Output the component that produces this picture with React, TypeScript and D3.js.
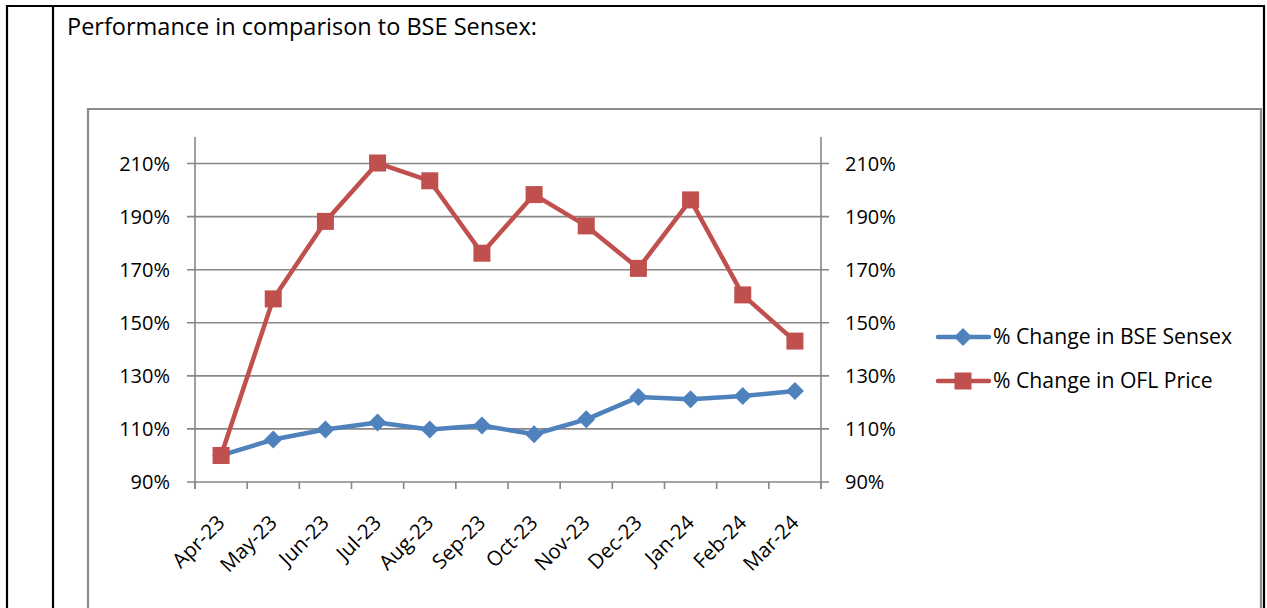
import React from "react";
import * as d3 from "d3";

const months = ["Apr-23", "May-23", "Jun-23", "Jul-23", "Aug-23", "Sep-23", "Oct-23", "Nov-23", "Dec-23", "Jan-24", "Feb-24", "Mar-24"];
// % change vs. April (1 = 100%)
const sensex = [1.0, 1.06, 1.098, 1.124, 1.098, 1.113, 1.08, 1.136, 1.22, 1.212, 1.224, 1.243];
const oflPrice = [1.0, 1.59, 1.882, 2.102, 2.035, 1.762, 1.983, 1.865, 1.705, 1.963, 1.605, 1.431];
const yTicks = [0.9, 1.1, 1.3, 1.5, 1.7, 1.9, 2.1];
const seriesNames = ["% Change in BSE Sensex", "% Change in OFL Price"];

const W = 1267;
const H = 608;
const plot = { left: 195, right: 821, top: 137, bottom: 482 };
const font = "'Open Sans', sans-serif";
const gridColor = "#878787";
const blue = "#4F81BD";
const red = "#C0504D";

export default function App() {
  const x = d3.scaleBand<string>().domain(months).range([plot.left, plot.right]).paddingInner(0).paddingOuter(0);
  const y = d3.scaleLinear().domain([0.9, 2.2]).range([plot.bottom, plot.top]);
  const cx = (m: string) => (x(m) as number) + x.bandwidth() / 2;
  const fmt = d3.format(".0%");

  const line = d3.line<number>()
    .x((_, i) => cx(months[i]))
    .y(d => y(d));

  const diamond = (px: number, py: number, r: number) =>
    `M${px},${py - r}L${px + r},${py}L${px},${py + r}L${px - r},${py}Z`;

  // tick positions on the category axis sit on band edges
  const xTickPos = months.map(m => x(m) as number).concat([plot.right]);

  return (
    <svg width={W} height={H} style={{ position: "fixed", left: 0, top: 0, background: "#fff" }} fontFamily={font}>
      {/* table borders */}
      <line x1={7} x2={7} y1={5} y2={H} stroke="#000" strokeWidth={2.2} />
      <line x1={53} x2={53} y1={5} y2={H} stroke="#000" strokeWidth={2.2} />
      <line x1={1264} x2={1264} y1={5} y2={H} stroke="#000" strokeWidth={2.2} />
      <line x1={6} x2={1265} y1={6} y2={6} stroke="#000" strokeWidth={2.2} />

      <text x={67} y={35} fontSize={23.5} fill="#000">Performance in comparison to BSE Sensex:</text>

      {/* chart frame */}
      <path d={`M88,${H}V109H1261V${H}`} fill="none" stroke="#8c8c8c" strokeWidth={2.2} />

      {/* gridlines + y labels */}
      {yTicks.map(t => (
        <g key={t}>
          <line x1={plot.left - 8} x2={plot.right + 8} y1={y(t)} y2={y(t)} stroke={gridColor} strokeWidth={1.6} />
          <text x={170} y={y(t)} dy="0.35em" textAnchor="end" fontSize={20} fill="#000">{fmt(t)}</text>
          <text x={845} y={y(t)} dy="0.35em" textAnchor="start" fontSize={20} fill="#000">{fmt(t)}</text>
        </g>
      ))}
      <line x1={plot.left} x2={plot.left} y1={plot.top} y2={plot.bottom + 7} stroke={gridColor} strokeWidth={1.6} />
      <line x1={plot.right} x2={plot.right} y1={plot.top} y2={plot.bottom + 7} stroke={gridColor} strokeWidth={1.6} />
      {xTickPos.map((p, i) => (
        <line key={i} x1={p} x2={p} y1={plot.bottom} y2={plot.bottom + 7} stroke={gridColor} strokeWidth={1.6} />
      ))}

      {/* x labels */}
      {months.map(m => (
        <text key={m} transform={`translate(${cx(m) + 5},${plot.bottom + 42}) rotate(-45)`} textAnchor="end" fontSize={20.5} fill="#000">{m}</text>
      ))}

      {/* series */}
      <path d={line(sensex) as string} fill="none" stroke={blue} strokeWidth={4.5} strokeLinejoin="round" />
      {sensex.map((v, i) => (
        <path key={i} d={diamond(cx(months[i]), y(v), 9)} fill={blue} />
      ))}
      <path d={line(oflPrice) as string} fill="none" stroke={red} strokeWidth={4.5} strokeLinejoin="round" />
      {oflPrice.map((v, i) => (
        <rect key={i} x={cx(months[i]) - 8.5} y={y(v) - 8.5} width={17} height={17} fill={red} />
      ))}

      {/* legend */}
      <g>
        <line x1={938} x2={989} y1={337} y2={337} stroke={blue} strokeWidth={4.5} strokeLinecap="round" />
        <path d={diamond(963, 337, 9)} fill={blue} />
        <text x={993} y={337} dy="0.35em" fontSize={21.2} fill="#000">{seriesNames[0]}</text>
        <line x1={938} x2={989} y1={381} y2={381} stroke={red} strokeWidth={4.5} strokeLinecap="round" />
        <rect x={954.5} y={372.5} width={17} height={17} fill={red} />
        <text x={993} y={381} dy="0.35em" fontSize={21.2} fill="#000">{seriesNames[1]}</text>
      </g>
    </svg>
  );
}
